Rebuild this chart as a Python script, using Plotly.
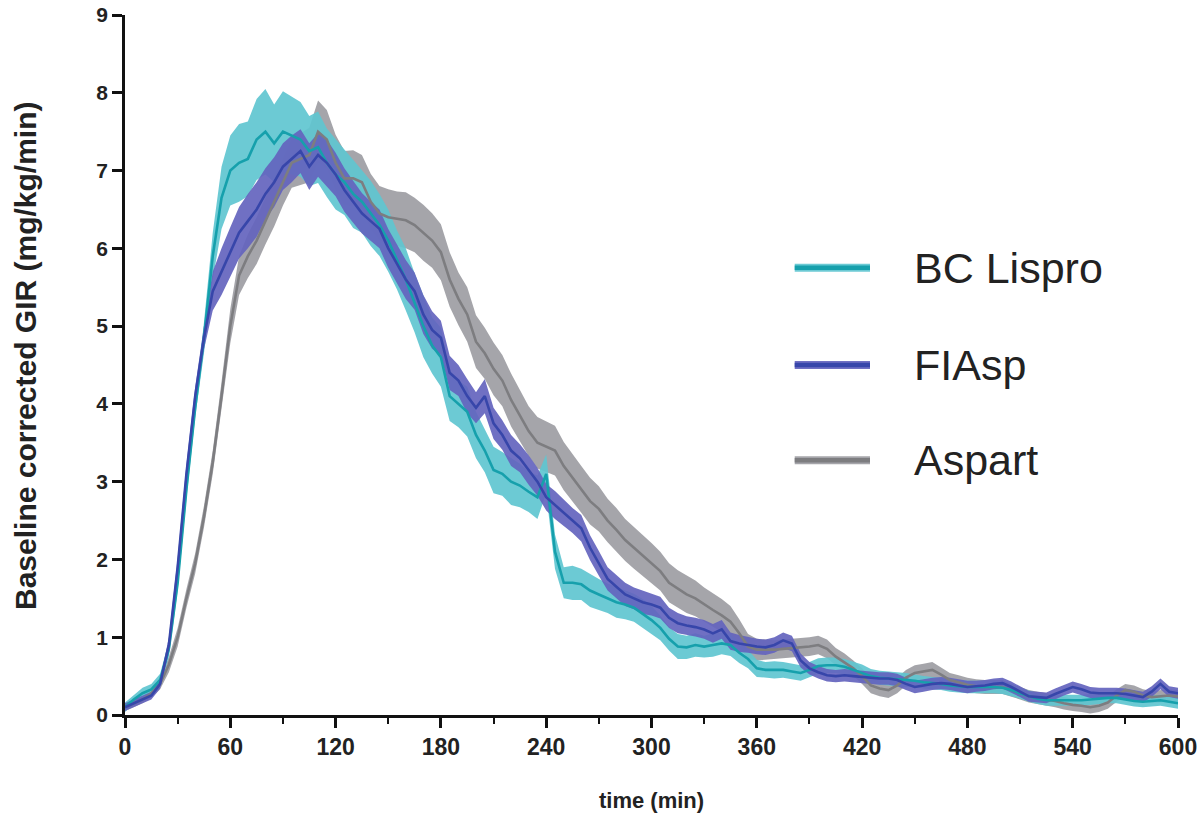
import numpy as np
import plotly.graph_objects as go

time_min = list(range(0, 605, 5))

lispro_mean = [0.10, 0.20, 0.28, 0.33, 0.45, 0.85, 1.70, 2.90, 3.95, 4.85,
               5.90, 6.65, 7.00, 7.10, 7.15, 7.40, 7.50, 7.35, 7.50, 7.45,
               7.40, 7.25, 7.30, 7.10, 6.95, 6.85, 6.70, 6.60, 6.45, 6.30,
               6.10, 5.85, 5.60, 5.30, 5.00, 4.75, 4.60, 4.10, 4.00, 3.90,
               3.60, 3.40, 3.15, 3.10, 3.00, 2.95, 2.87, 2.80, 3.10, 2.10,
               1.70, 1.70, 1.68, 1.60, 1.55, 1.50, 1.45, 1.42, 1.38, 1.30,
               1.22, 1.12, 0.98, 0.88, 0.87, 0.90, 0.88, 0.90, 0.92, 0.90,
               0.80, 0.72, 0.60, 0.58, 0.58, 0.58, 0.56, 0.54, 0.58, 0.63,
               0.64, 0.64, 0.62, 0.58, 0.55, 0.50, 0.48, 0.47, 0.46, 0.45,
               0.44, 0.42, 0.41, 0.40, 0.38, 0.37, 0.36, 0.36, 0.36, 0.36,
               0.35, 0.32, 0.28, 0.24, 0.21, 0.19, 0.19, 0.19, 0.19, 0.19,
               0.20, 0.21, 0.22, 0.22, 0.20, 0.18, 0.17, 0.18, 0.19, 0.17,
               0.15]
lispro_sem = [0.06, 0.06, 0.07, 0.07, 0.08, 0.10, 0.10, 0.12, 0.12, 0.20,
              0.30, 0.40, 0.45, 0.50, 0.48, 0.52, 0.55, 0.50, 0.52, 0.50,
              0.48, 0.45, 0.46, 0.44, 0.45, 0.42, 0.44, 0.40, 0.42, 0.40,
              0.40, 0.38, 0.40, 0.38, 0.40, 0.36, 0.38, 0.32, 0.30, 0.32,
              0.30, 0.28, 0.30, 0.28, 0.30, 0.28, 0.26, 0.28, 0.25, 0.22,
              0.20, 0.22, 0.20, 0.21, 0.20, 0.19, 0.20, 0.19, 0.18, 0.19,
              0.18, 0.16, 0.15, 0.16, 0.15, 0.15, 0.14, 0.15, 0.14, 0.14,
              0.13, 0.12, 0.11, 0.10, 0.11, 0.10, 0.10, 0.10, 0.10, 0.10,
              0.10, 0.10, 0.10, 0.10, 0.10, 0.09, 0.09, 0.09, 0.09, 0.09,
              0.08, 0.08, 0.08, 0.08, 0.08, 0.08, 0.08, 0.08, 0.08, 0.08,
              0.08, 0.08, 0.07, 0.07, 0.07, 0.07, 0.07, 0.07, 0.07, 0.07,
              0.07, 0.07, 0.07, 0.07, 0.07, 0.07, 0.07, 0.07, 0.07, 0.07,
              0.07]

fiasp_mean = [0.10, 0.15, 0.20, 0.25, 0.40, 0.90, 1.90, 3.10, 4.10, 4.85,
              5.45, 5.70, 5.95, 6.20, 6.35, 6.50, 6.70, 6.85, 7.05, 7.15,
              7.25, 7.05, 7.20, 7.10, 6.95, 6.75, 6.60, 6.45, 6.35, 6.25,
              6.00, 5.80, 5.60, 5.45, 5.15, 4.95, 4.85, 4.40, 4.30, 4.10,
              3.95, 4.10, 3.75, 3.60, 3.40, 3.30, 3.15, 3.00, 2.80, 2.70,
              2.60, 2.50, 2.40, 2.15, 1.95, 1.75, 1.65, 1.55, 1.50, 1.45,
              1.42, 1.38, 1.25, 1.18, 1.15, 1.13, 1.10, 1.05, 1.10, 0.95,
              0.92, 0.90, 0.88, 0.87, 0.90, 0.96, 0.92, 0.70, 0.60, 0.55,
              0.51, 0.50, 0.51, 0.50, 0.49, 0.48, 0.47, 0.47, 0.45, 0.40,
              0.36, 0.38, 0.40, 0.41, 0.40, 0.38, 0.36, 0.37, 0.38, 0.40,
              0.41, 0.36, 0.30, 0.24, 0.23, 0.22, 0.27, 0.32, 0.36, 0.33,
              0.29, 0.28, 0.28, 0.28, 0.27, 0.25, 0.23, 0.30, 0.40, 0.30,
              0.28]
fiasp_sem = [0.05, 0.05, 0.05, 0.05, 0.06, 0.10, 0.12, 0.12, 0.12, 0.15,
             0.25, 0.30, 0.32, 0.33, 0.35, 0.35, 0.33, 0.32, 0.30, 0.30,
             0.28, 0.30, 0.28, 0.30, 0.28, 0.28, 0.27, 0.26, 0.25, 0.25,
             0.25, 0.24, 0.25, 0.24, 0.25, 0.24, 0.22, 0.22, 0.20, 0.22,
             0.20, 0.22, 0.20, 0.19, 0.20, 0.18, 0.19, 0.18, 0.17, 0.18,
             0.17, 0.16, 0.17, 0.16, 0.16, 0.15, 0.15, 0.15, 0.14, 0.15,
             0.14, 0.14, 0.13, 0.13, 0.12, 0.12, 0.12, 0.12, 0.12, 0.11,
             0.11, 0.10, 0.10, 0.10, 0.10, 0.10, 0.10, 0.09, 0.08, 0.08,
             0.08, 0.08, 0.08, 0.08, 0.08, 0.08, 0.08, 0.08, 0.08, 0.08,
             0.08, 0.08, 0.08, 0.08, 0.08, 0.08, 0.08, 0.07, 0.07, 0.07,
             0.07, 0.07, 0.07, 0.07, 0.07, 0.07, 0.07, 0.07, 0.07, 0.07,
             0.07, 0.07, 0.07, 0.07, 0.07, 0.07, 0.07, 0.07, 0.07, 0.07,
             0.07]

aspart_mean = [0.10, 0.15, 0.20, 0.28, 0.40, 0.65, 1.00, 1.50, 1.95, 2.55,
               3.25, 4.10, 5.00, 5.65, 5.90, 6.10, 6.35, 6.60, 6.85, 7.10,
               7.15, 7.20, 7.50, 7.40, 7.10, 6.90, 6.90, 6.85, 6.60, 6.45,
               6.40, 6.38, 6.36, 6.30, 6.20, 6.10, 5.95, 5.60, 5.35, 5.15,
               4.80, 4.65, 4.45, 4.30, 4.05, 3.85, 3.65, 3.50, 3.45, 3.40,
               3.20, 3.05, 2.90, 2.75, 2.65, 2.50, 2.38, 2.25, 2.15, 2.05,
               1.95, 1.85, 1.70, 1.62, 1.55, 1.50, 1.42, 1.35, 1.28, 1.20,
               1.05, 0.88, 0.84, 0.84, 0.84, 0.85, 0.86, 0.87, 0.88, 0.90,
               0.85, 0.75, 0.68, 0.60, 0.50, 0.38, 0.34, 0.32, 0.38, 0.48,
               0.54, 0.56, 0.58, 0.52, 0.45, 0.42, 0.39, 0.37, 0.36, 0.36,
               0.36, 0.32, 0.28, 0.24, 0.22, 0.20, 0.18, 0.15, 0.13, 0.12,
               0.10, 0.12, 0.16, 0.25, 0.32, 0.30, 0.25, 0.23, 0.24, 0.25,
               0.24]
aspart_sem = [0.05, 0.05, 0.05, 0.06, 0.07, 0.10, 0.12, 0.12, 0.13, 0.14,
              0.15, 0.18, 0.22, 0.25, 0.28, 0.30, 0.30, 0.32, 0.30, 0.32,
              0.33, 0.35, 0.40, 0.38, 0.36, 0.35, 0.36, 0.35, 0.36, 0.35,
              0.36, 0.35, 0.36, 0.35, 0.36, 0.35, 0.36, 0.35, 0.34, 0.35,
              0.34, 0.33, 0.34, 0.33, 0.34, 0.33, 0.32, 0.33, 0.32, 0.32,
              0.31, 0.30, 0.30, 0.30, 0.29, 0.28, 0.28, 0.27, 0.27, 0.26,
              0.26, 0.25, 0.25, 0.24, 0.24, 0.23, 0.22, 0.22, 0.21, 0.20,
              0.18, 0.16, 0.14, 0.13, 0.12, 0.12, 0.12, 0.12, 0.12, 0.12,
              0.12, 0.11, 0.11, 0.10, 0.10, 0.10, 0.10, 0.10, 0.10, 0.10,
              0.10, 0.10, 0.10, 0.09, 0.09, 0.09, 0.09, 0.09, 0.09, 0.09,
              0.09, 0.08, 0.08, 0.08, 0.08, 0.08, 0.08, 0.08, 0.08, 0.08,
              0.08, 0.08, 0.08, 0.08, 0.08, 0.08, 0.08, 0.08, 0.08, 0.08,
              0.08]

x_ticks = list(range(0, 601, 60))
y_ticks = list(range(0, 10))
series_names = ["BC Lispro", "FIAsp", "Aspart"]
x_title = "time (min)"
y_title = "Baseline corrected GIR (mg/kg/min)"

line_colors = {"BC Lispro": "rgb(22,160,172)", "FIAsp": "rgb(55,70,170)", "Aspart": "rgb(125,125,128)"}
band_colors = {"BC Lispro": "rgba(95,198,208,0.92)", "FIAsp": "rgba(100,100,190,0.92)", "Aspart": "rgba(160,160,165,0.95)"}
data = {
    "BC Lispro": (lispro_mean, lispro_sem),
    "FIAsp": (fiasp_mean, fiasp_sem),
    "Aspart": (aspart_mean, aspart_sem),
}

fig = go.Figure()
t = np.array(time_min)
for name in ["Aspart", "BC Lispro", "FIAsp"]:
    m, s = (np.array(v) for v in data[name])
    up = m + s
    lo = np.clip(m - s, 0, None)
    fig.add_trace(go.Scatter(
        x=np.concatenate([t, t[::-1]]), y=np.concatenate([up, lo[::-1]]),
        fill="toself", fillcolor=band_colors[name], line=dict(width=0),
        mode="lines", showlegend=False, hoverinfo="skip"))
for name in ["Aspart", "BC Lispro", "FIAsp"]:
    m, s = data[name]
    fig.add_trace(go.Scatter(x=time_min, y=m, mode="lines", name=name,
                             line=dict(color=line_colors[name], width=2.6),
                             showlegend=False))

font_family = "Liberation Sans, Arial, sans-serif"
fig.update_layout(
    width=1198, height=820,
    margin=dict(l=125, r=20, t=15, b=105),
    paper_bgcolor="white", plot_bgcolor="white",
    font=dict(family=font_family, color="#222"),
    xaxis=dict(range=[0, 600], tickvals=x_ticks, showline=True, linecolor="#111",
               linewidth=2.5, ticks="outside", ticklen=10, tickwidth=2.5, tickcolor="#111",
               showgrid=False, zeroline=False, automargin=False, ticklabeloverflow="allow",
               tickfont=dict(size=23, family=font_family, color="#222", weight="bold"),
               minor=dict(dtick=30, tick0=0, ticks="outside", ticklen=6, tickwidth=2, tickcolor="#111")),
    yaxis=dict(range=[0, 9], tickvals=y_ticks, showline=True, linecolor="#111",
               linewidth=2.5, ticks="outside", ticklen=10, tickwidth=2.5, tickcolor="#111",
               showgrid=False, zeroline=False, automargin=False, ticklabeloverflow="allow",
               tickfont=dict(size=21, family=font_family, color="#222", weight="bold")),
)

fig.add_annotation(xref="paper", yref="paper", x=0.5, y=(715 - 800) / 700, text="<b>" + x_title + "</b>",
                   showarrow=False, xanchor="center", yanchor="middle",
                   font=dict(size=22, family=font_family, color="#222"))
fig.add_annotation(xref="paper", yref="paper", x=(26 - 125) / 1053, y=(715 - 356) / 700, text="<b>" + y_title + "</b>",
                   showarrow=False, xanchor="center", yanchor="middle", textangle=-90,
                   font=dict(size=30, family=font_family, color="#222"))

legend_y = [0.639, 0.5, 0.364]
for name, yy in zip(series_names, legend_y):
    fig.add_shape(type="line", xref="paper", yref="paper", x0=0.636, x1=0.7075, y0=yy, y1=yy,
                  line=dict(color=band_colors[name], width=8))
    fig.add_shape(type="line", xref="paper", yref="paper", x0=0.636, x1=0.7075, y0=yy, y1=yy,
                  line=dict(color=line_colors[name], width=4.5))
    fig.add_annotation(xref="paper", yref="paper", x=0.747, y=yy, text=name, showarrow=False,
                       xanchor="left", yanchor="middle",
                       font=dict(size=43, family=font_family, color="#222"))

fig.write_html("out.html", config={"displayModeBar": False},
               post_script="document.body.style.margin='0px';")
